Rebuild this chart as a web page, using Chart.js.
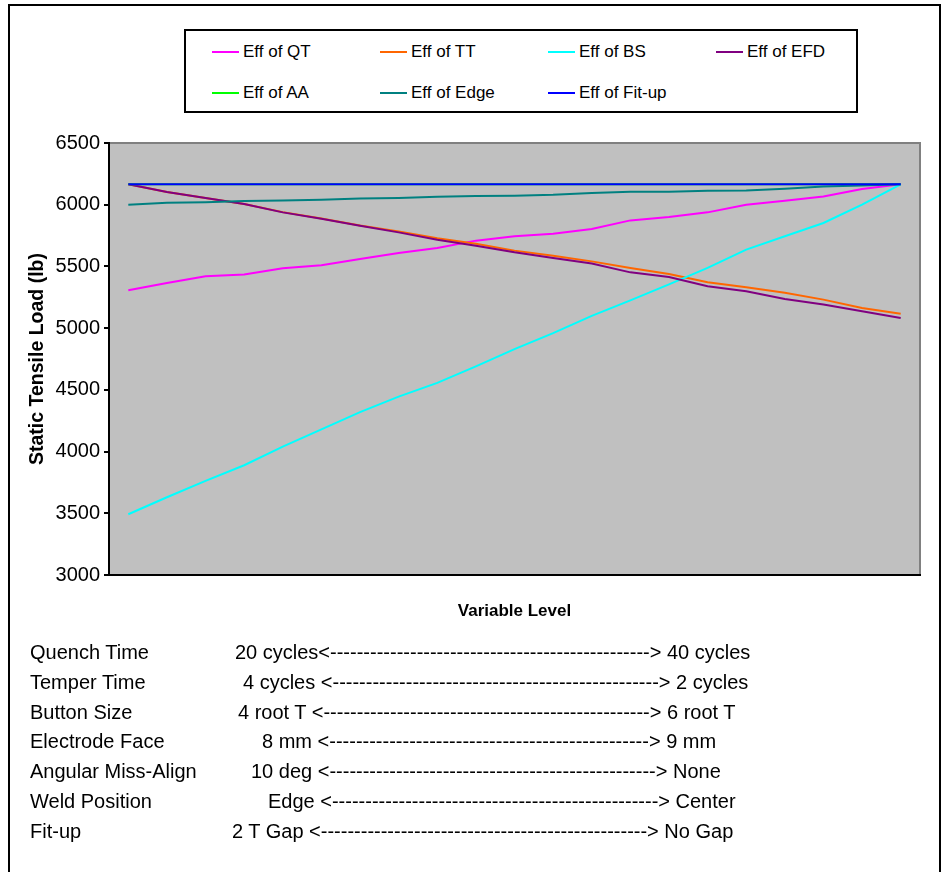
<!DOCTYPE html>
<html>
<head>
<meta charset="utf-8">
<script src="https://cdn.jsdelivr.net/npm/chart.js@4.4.1/dist/chart.umd.min.js"></script>
<style>
  html, body { margin: 0; padding: 0; background: #fff; }
  body { width: 943px; height: 872px; position: relative; overflow: hidden;
         font-family: "Liberation Sans", Arial, sans-serif; color: #000; }
  #frame { position: absolute; left: 8px; top: 4px; width: 933px; height: 900px;
           border: 2px solid #000; box-sizing: border-box; }
  #chart { position: absolute; left: 0; top: 0; }
  #legend { position: absolute; left: 184px; top: 29px; width: 674px; height: 84px;
            border: 2px solid #000; box-sizing: border-box; background: #fff; }
  .item { position: absolute; height: 20px; font-size: 17px; line-height: 20px; white-space: nowrap; }
  .item .swatch { position: absolute; left: 0; top: 9px; width: 27px; height: 2px; }
  .item .txt { position: absolute; left: 31px; top: 0; }
  .row { position: absolute; font-size: 20px; line-height: 24px; white-space: nowrap; }
</style>
</head>
<body>
<div id="frame"></div>
<canvas id="chart" width="943" height="872"></canvas>
<div id="legend"></div>
<div id="levels"></div>
<script>
// Variable level steps along the x axis (low setting -> high setting)
const levels = [1, 2, 3, 4, 5, 6, 7, 8, 9, 10, 11, 12, 13, 14, 15, 16, 17, 18, 19, 20, 21];

// Static tensile load (lb) for each factor swept across its range
const effQT   = [5307, 5366, 5420, 5434, 5485, 5509, 5561, 5609, 5650, 5709, 5744, 5765, 5803, 5873, 5900, 5938, 6000, 6032, 6067, 6127, 6165];
const effTT   = [6165, 6103, 6054, 6006, 5940, 5888, 5832, 5784, 5728, 5684, 5628, 5587, 5541, 5488, 5439, 5372, 5331, 5286, 5231, 5164, 5116];
const effBS   = [3492, 3630, 3762, 3889, 4040, 4180, 4320, 4445, 4557, 4690, 4830, 4960, 5100, 5225, 5355, 5488, 5636, 5744, 5852, 6000, 6165];
const effEFD  = [6165, 6103, 6054, 6006, 5938, 5887, 5830, 5776, 5717, 5668, 5614, 5569, 5523, 5452, 5415, 5339, 5299, 5237, 5191, 5137, 5083];
const effAA   = [6165, 6165, 6165, 6165, 6165, 6165, 6165, 6165, 6165, 6165, 6165, 6165, 6165, 6165, 6165, 6165, 6165, 6165, 6165, 6165, 6165];
const effEdge = [6000, 6015, 6020, 6030, 6035, 6040, 6050, 6055, 6065, 6070, 6072, 6080, 6095, 6105, 6105, 6113, 6115, 6130, 6148, 6155, 6165];
const effFit  = [6165, 6165, 6165, 6165, 6165, 6165, 6165, 6165, 6165, 6165, 6165, 6165, 6165, 6165, 6165, 6165, 6165, 6165, 6165, 6165, 6165];

const seriesNames = ['Eff of QT', 'Eff of TT', 'Eff of BS', 'Eff of EFD', 'Eff of AA', 'Eff of Edge', 'Eff of Fit-up'];
const seriesValues = [effQT, effTT, effBS, effEFD, effAA, effEdge, effFit];
const seriesColors = ['#FF00FF', '#FF6600', '#00FFFF', '#800080', '#00FF00', '#008080', '#0000FF'];

// y-axis range and tick step
const yMin = 3000, yMax = 6500, yStep = 500;

// Factor ranges printed under the chart
const factorNames = ['Quench Time', 'Temper Time', 'Button Size', 'Electrode Face', 'Angular Miss-Align', 'Weld Position', 'Fit-up'];
const lowLevels   = ['20 cycles<', '4 cycles <', '4 root T <', '8 mm <', '10 deg <', 'Edge <', '2 T Gap <'];
const highLevels  = ['> 40 cycles', '> 2 cycles', '> 6 root T', '> 9 mm', '> None', '> Center', '> No Gap'];

// Layout of the range table (left edge of the low text, right edge of the high text)
const rangeStartX = [235, 243, 238, 262, 251, 268, 232];
const rangeEndX   = [753, 745, 735, 719, 719, 737, 733];

const FONT = '"Liberation Sans", Arial, sans-serif';

// Gray plot area with a gray top/right edge, as in the spreadsheet chart
const plotBackdrop = {
  id: 'plotBackdrop',
  beforeDraw(chart) {
    const { ctx, chartArea: a } = chart;
    ctx.save();
    ctx.fillStyle = '#C0C0C0';
    ctx.fillRect(a.left, a.top, a.right - a.left, a.bottom - a.top);
    ctx.strokeStyle = '#808080';
    ctx.lineWidth = 2;
    ctx.beginPath();
    ctx.moveTo(a.left, a.top);
    ctx.lineTo(a.right, a.top);
    ctx.lineTo(a.right, a.bottom);
    ctx.stroke();
    ctx.restore();
  }
};

const datasets = seriesNames.map((name, i) => ({
  label: name,
  data: seriesValues[i],
  borderColor: seriesColors[i],
  backgroundColor: seriesColors[i],
  borderWidth: 2,
  pointRadius: 0,
  tension: 0,
  fill: false,
  // later series are painted over earlier ones
  order: seriesNames.length - i
}));

const chart = new Chart(document.getElementById('chart'), {
  type: 'line',
  data: { labels: levels, datasets },
  plugins: [plotBackdrop],
  options: {
    responsive: false,
    animation: false,
    events: [],
    layout: { padding: { left: 0, top: 143, right: 23, bottom: 242 } },
    plugins: { legend: { display: false }, tooltip: { enabled: false } },
    scales: {
      x: {
        type: 'category',
        offset: true,
        grid: { display: false },
        border: { display: true, color: '#000', width: 2 },
        ticks: { display: false },
        title: {
          display: true, text: 'Variable Level', color: '#000',
          font: { family: FONT, size: 17, weight: 'bold' },
          padding: { top: 0, bottom: 8 }
        },
        afterFit(scale) { scale.height = 55; }
      },
      y: {
        min: yMin, max: yMax,
        grid: { drawOnChartArea: false, drawTicks: true, tickLength: 5, tickWidth: 2, tickColor: '#000', color: '#000', lineWidth: 2 },
        border: { display: true, color: '#000', width: 2 },
        ticks: {
          stepSize: yStep, color: '#000', padding: 4,
          font: { family: FONT, size: 20 },
          callback: (v) => String(v)
        },
        title: {
          display: true, text: 'Static Tensile Load (lb)', color: '#000',
          font: { family: FONT, size: 19.5, weight: 'bold' },
          padding: { top: 26, bottom: 0 }
        },
        afterFit(scale) { scale.width = 109; }
      }
    }
  }
});

// Legend box: four columns, two rows
const legendEl = document.getElementById('legend');
seriesNames.forEach((name, i) => {
  const col = i % 4, row = Math.floor(i / 4);
  const item = document.createElement('div');
  item.className = 'item';
  item.style.left = (26 + col * 168) + 'px';
  item.style.top = (11 + row * 41) + 'px';
  const sw = document.createElement('span');
  sw.className = 'swatch';
  sw.style.background = seriesColors[i];
  const tx = document.createElement('span');
  tx.className = 'txt';
  tx.textContent = name;
  item.appendChild(sw);
  item.appendChild(tx);
  legendEl.appendChild(item);
});

// Range table under the chart
const levelsEl = document.getElementById('levels');
const mctx = document.createElement('canvas').getContext('2d');
mctx.font = '20px ' + FONT;
const dashW = mctx.measureText('-').width;
factorNames.forEach((name, i) => {
  const top = 652 + i * 29.8 - 12;
  const lab = document.createElement('div');
  lab.className = 'row';
  lab.style.left = '30px';
  lab.style.top = top + 'px';
  lab.textContent = name;
  levelsEl.appendChild(lab);

  const span = rangeEndX[i] - rangeStartX[i];
  const fixed = mctx.measureText(lowLevels[i]).width + mctx.measureText(highLevels[i]).width;
  const n = Math.max(1, Math.round((span - fixed) / dashW));
  const rng = document.createElement('div');
  rng.className = 'row';
  rng.style.left = rangeStartX[i] + 'px';
  rng.style.top = top + 'px';
  rng.textContent = lowLevels[i] + '-'.repeat(n) + highLevels[i];
  levelsEl.appendChild(rng);
});
</script>
</body>
</html>
